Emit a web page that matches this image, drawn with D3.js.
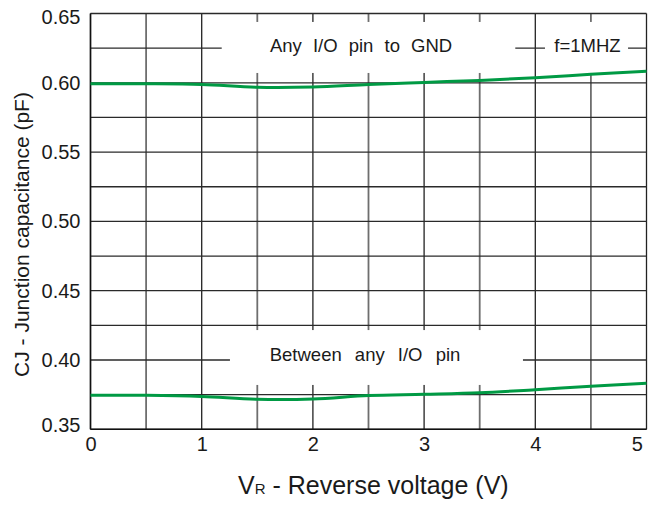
<!DOCTYPE html>
<html>
<head>
<meta charset="utf-8">
<script src="https://cdn.jsdelivr.net/npm/d3@7"></script>
<style>
  body { margin: 0; background: #fff; }
  svg text { font-family: "Liberation Sans", Arial, sans-serif; fill: #1a1a1a; }
</style>
</head>
<body>
<svg id="chart" width="653" height="505"></svg>
<script>
// data
const voltage  = [0, 0.5, 1, 1.5, 2, 2.5, 3, 3.5, 4, 4.5, 5];
const toGnd    = [0.5993, 0.5993, 0.5988, 0.5968, 0.5970, 0.5988, 0.6003, 0.6017, 0.6036, 0.6061, 0.6084];
const betweenIO = [0.3745, 0.3745, 0.3737, 0.3717, 0.3719, 0.3743, 0.3752, 0.3763, 0.3786, 0.3810, 0.3832];
const xTicks = [0, 1, 2, 3, 4, 5];
const yTicks = [0.35, 0.40, 0.45, 0.50, 0.55, 0.60, 0.65];
const xGrid  = d3.range(0, 11).map(i => i * 0.5);
const yGrid  = d3.range(0, 13).map(i => 0.35 + i * 0.025);

// annotation boxes (data units) and their texts
const notes = [
  { text: "Any I/O pin to GND", x0: 1.18, x1: 3.82, y0: 0.6071, y1: 0.6439, tx: 2.433, ty: 0.6222, ws: 6 },
  { text: "f=1MHZ",             x0: 4.087, x1: 4.834, y0: 0.6071, y1: 0.6439, tx: 4.469, ty: 0.6222, ws: 0 },
  { text: "Between any I/O pin", x0: 1.254, x1: 3.889, y0: 0.3820, y1: 0.4216, tx: 2.469, ty: 0.3993, ws: 8 }
];

const svg = d3.select("#chart");
const W = 653, H = 505;
const m = { left: 90.5, top: 13.5, right: 6.5, bottom: 75.7 };

const x = d3.scaleLinear().domain([0, 5]).range([m.left, W - m.right]);
const y = d3.scaleLinear().domain([0.35, 0.65]).range([H - m.bottom, m.top]);

svg.append("rect").attr("width", W).attr("height", H).attr("fill", "#fff");

// grid
const grid = svg.append("g");
grid.selectAll("line.v")
  .data(xGrid)
  .enter().append("line")
  .attr("x1", d => x(d)).attr("x2", d => x(d))
  .attr("y1", y(0.65)).attr("y2", y(0.35))
  .attr("stroke", d => Number.isInteger(d) ? "#222" : "#6e6e6e")
  .attr("stroke-width", d => Number.isInteger(d) ? 1.3 : 1.8);

grid.selectAll("line.h")
  .data(yGrid)
  .enter().append("line")
  .attr("x1", x(0)).attr("x2", x(5))
  .attr("y1", d => y(d)).attr("y2", d => y(d))
  .attr("stroke", "#2a2a2a")
  .attr("stroke-width", 1.3);

// white label boxes over the grid
const ann = svg.append("g");
ann.selectAll("rect")
  .data(notes)
  .enter().append("rect")
  .attr("x", d => x(d.x0))
  .attr("y", d => y(d.y1))
  .attr("width", d => x(d.x1) - x(d.x0))
  .attr("height", d => y(d.y0) - y(d.y1))
  .attr("fill", "#fff");

ann.selectAll("text")
  .data(notes)
  .enter().append("text")
  .attr("x", d => x(d.tx))
  .attr("y", d => y(d.ty))
  .attr("text-anchor", "middle")
  .style("font-size", "18.5px")
  .style("word-spacing", d => d.ws + "px")
  .text(d => d.text);

// frame
svg.append("line")
  .attr("x1", x(0)).attr("x2", x(0)).attr("y1", y(0.65)).attr("y2", y(0.35))
  .attr("stroke", "#111").attr("stroke-width", 1.5);
svg.append("line")
  .attr("x1", x(0)).attr("x2", x(5)).attr("y1", y(0.35)).attr("y2", y(0.35))
  .attr("stroke", "#111").attr("stroke-width", 1.5);

// curves
const line = d3.line()
  .x((d, i) => x(voltage[i]))
  .y(d => y(d))
  .curve(d3.curveCatmullRom.alpha(0.5));

svg.selectAll("path.curve")
  .data([toGnd, betweenIO])
  .enter().append("path")
  .attr("class", "curve")
  .attr("d", line)
  .attr("fill", "none")
  .attr("stroke", "#009a44")
  .attr("stroke-width", 3);

// axes (labels only)
const xAxis = svg.append("g")
  .attr("transform", `translate(0,${y(0.35)})`)
  .call(d3.axisBottom(x).tickValues(xTicks).tickSize(0).tickPadding(8).tickFormat(d3.format("d")));
xAxis.select(".domain").remove();
xAxis.selectAll("text")
  .style("font-size", "20px")
  .attr("fill", "#1a1a1a")
  .attr("dx", d => d === 5 ? "-0.48em" : 0);

const yAxis = svg.append("g")
  .attr("transform", `translate(${x(0)},0)`)
  .call(d3.axisLeft(y).tickValues(yTicks).tickSize(0).tickPadding(10).tickFormat(d3.format(".2f")));
yAxis.select(".domain").remove();
yAxis.selectAll("text")
  .style("font-size", "20px")
  .attr("fill", "#1a1a1a")
  .attr("dy", d => d === 0.65 ? "0.5em" : d === 0.35 ? "0.12em" : "0.32em");

// axis titles
const xt = svg.append("text")
  .attr("x", 238)
  .attr("y", 494)
  .style("font-size", "25px");
xt.append("tspan").text("V");
xt.append("tspan").style("font-size", "15px").text("R");
xt.append("tspan").text(" - Reverse voltage (V)");

svg.append("text")
  .attr("transform", `translate(29,${(97 + 372) / 2}) rotate(-90)`)
  .attr("text-anchor", "middle")
  .style("font-size", "21px")
  .text("CJ - Junction capacitance (pF)");
</script>
</body>
</html>
